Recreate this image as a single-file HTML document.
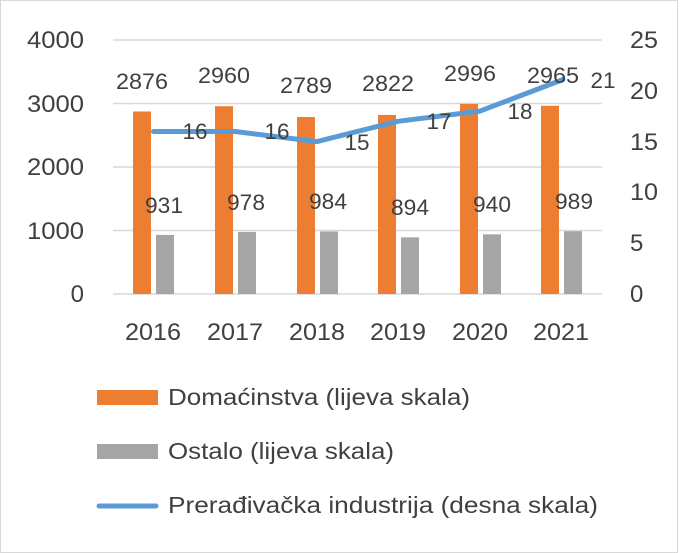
<!DOCTYPE html>
<html><head><style>body{margin:0;background:#fff}svg{display:block}</style></head><body>
<svg width="685" height="553" viewBox="0 0 685 553" xmlns="http://www.w3.org/2000/svg" font-family="Liberation Sans, sans-serif" fill="#404040">
<rect x="0.5" y="0.5" width="677" height="552" fill="#fff" stroke="#d9d9d9"/>
<g stroke="#d9d9d9" stroke-width="1.5">
<line x1="113" y1="40" x2="602" y2="40"/><line x1="113" y1="103.5" x2="602" y2="103.5"/><line x1="113" y1="167" x2="602" y2="167"/><line x1="113" y1="230.5" x2="602" y2="230.5"/><line x1="113" y1="294" x2="602" y2="294"/>
</g>
<g font-size="24" text-anchor="end" lengthAdjust="spacingAndGlyphs">
<text x="84" y="48" textLength="57" lengthAdjust="spacingAndGlyphs">4000</text><text x="84" y="112" textLength="57" lengthAdjust="spacingAndGlyphs">3000</text><text x="84" y="175" textLength="57" lengthAdjust="spacingAndGlyphs">2000</text><text x="84" y="239" textLength="57" lengthAdjust="spacingAndGlyphs">1000</text><text x="84" y="302">0</text>
</g>
<g font-size="24">
<text x="630" y="48" textLength="28" lengthAdjust="spacingAndGlyphs">25</text><text x="630" y="99" textLength="28" lengthAdjust="spacingAndGlyphs">20</text><text x="630" y="150" textLength="28" lengthAdjust="spacingAndGlyphs">15</text><text x="630" y="200" textLength="28" lengthAdjust="spacingAndGlyphs">10</text><text x="630" y="251">5</text><text x="630" y="302">0</text>
</g>
<g fill="#ed7d31">
<rect x="133" y="111.5" width="18" height="182.5"/>
<rect x="215" y="106.2" width="18" height="187.8"/>
<rect x="297" y="117" width="18" height="177"/>
<rect x="378" y="114.9" width="18" height="179.1"/>
<rect x="460" y="103.9" width="18" height="190.1"/>
<rect x="541" y="105.8" width="18" height="188.2"/>
</g>
<g fill="#a5a5a5">
<rect x="156" y="234.9" width="18" height="59.1"/>
<rect x="238" y="231.9" width="18" height="62.1"/>
<rect x="320" y="231.5" width="18" height="62.5"/>
<rect x="401" y="237.3" width="18" height="56.7"/>
<rect x="483" y="234.3" width="18" height="59.7"/>
<rect x="564" y="231.2" width="18" height="62.8"/>
</g>
<polyline points="153.5,131.5 235,131.5 317,141.6 398,121.3 480,111.1 563,79.5" fill="none" stroke="#5b9bd5" stroke-width="5" stroke-linejoin="round" stroke-linecap="round"/>
<g font-size="22" text-anchor="middle">
<text x="142" y="89" textLength="52" lengthAdjust="spacingAndGlyphs">2876</text><text x="224" y="83" textLength="52" lengthAdjust="spacingAndGlyphs">2960</text><text x="306" y="93" textLength="52" lengthAdjust="spacingAndGlyphs">2789</text><text x="388" y="91" textLength="52" lengthAdjust="spacingAndGlyphs">2822</text><text x="470" y="81" textLength="52" lengthAdjust="spacingAndGlyphs">2996</text><text x="553" y="83" textLength="52" lengthAdjust="spacingAndGlyphs">2965</text>
<text x="164" y="213" textLength="38" lengthAdjust="spacingAndGlyphs">931</text><text x="246" y="210" textLength="38" lengthAdjust="spacingAndGlyphs">978</text><text x="328" y="209" textLength="38" lengthAdjust="spacingAndGlyphs">984</text><text x="410" y="215" textLength="38" lengthAdjust="spacingAndGlyphs">894</text><text x="492" y="212" textLength="38" lengthAdjust="spacingAndGlyphs">940</text><text x="574" y="209" textLength="38" lengthAdjust="spacingAndGlyphs">989</text>
<text x="195" y="139" textLength="25" lengthAdjust="spacingAndGlyphs">16</text><text x="277" y="139" textLength="25" lengthAdjust="spacingAndGlyphs">16</text><text x="357" y="150" textLength="25" lengthAdjust="spacingAndGlyphs">15</text><text x="439" y="129" textLength="25" lengthAdjust="spacingAndGlyphs">17</text><text x="520" y="119" textLength="25" lengthAdjust="spacingAndGlyphs">18</text><text x="603" y="88" textLength="25" lengthAdjust="spacingAndGlyphs">21</text>
</g>
<g font-size="24" text-anchor="middle">
<text x="153" y="340" textLength="56" lengthAdjust="spacingAndGlyphs">2016</text><text x="235" y="340" textLength="56" lengthAdjust="spacingAndGlyphs">2017</text><text x="317" y="340" textLength="56" lengthAdjust="spacingAndGlyphs">2018</text><text x="398" y="340" textLength="56" lengthAdjust="spacingAndGlyphs">2019</text><text x="480" y="340" textLength="56" lengthAdjust="spacingAndGlyphs">2020</text><text x="561" y="340" textLength="56" lengthAdjust="spacingAndGlyphs">2021</text>
</g>
<rect x="97" y="390" width="61" height="15" fill="#ed7d31"/>
<rect x="97" y="444" width="61" height="15" fill="#a5a5a5"/>
<line x1="99" y1="506" x2="156" y2="506" stroke="#5b9bd5" stroke-width="5" stroke-linecap="round"/>
<g font-size="23">
<text x="168" y="405" textLength="302" lengthAdjust="spacingAndGlyphs">Domaćinstva (lijeva skala)</text>
<text x="168" y="459" textLength="226" lengthAdjust="spacingAndGlyphs">Ostalo (lijeva skala)</text>
<text x="168" y="513" textLength="430" lengthAdjust="spacingAndGlyphs">Prerađivačka industrija (desna skala)</text>
</g>
</svg>
</body></html>
